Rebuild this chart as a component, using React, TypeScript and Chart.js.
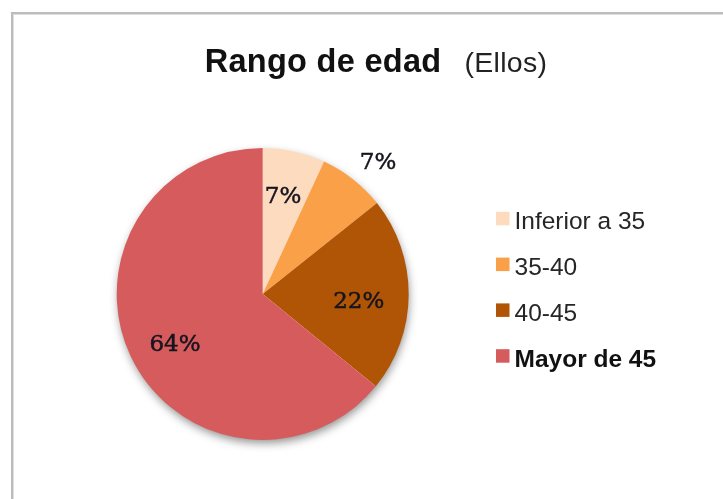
import React, { useEffect, useRef } from "react";
import { Chart, registerables } from "chart.js";

Chart.register(...registerables);

const titleBold = "Rango de edad";
const titleNormal = "(Ellos)";
const categories = ["Inferior a 35", "35-40", "40-45", "Mayor de 45"];
const values = [6.9, 7.4, 21.6, 64.1];
const sliceColors = ["#FDDBBE", "#F9A048", "#B05505", "#D65B5D"];
const boldLegendItems = [false, false, false, true];

// label placement: radius factor and angle tweak (deg) per slice
const labelPlacement = [
  { r: 0.68, dA: -0.6 },
  { r: 1.195, dA: 3.2 },
  { r: 0.66, dA: 4.3 },
  { r: 0.695, dA: -4.8 },
];

const decorPlugin = {
  id: "decor",
  beforeDraw(chart: any) {
    const ctx = chart.ctx;
    ctx.save();
    ctx.fillStyle = "#ffffff";
    ctx.fillRect(0, 0, chart.width, chart.height);
    // frame
    ctx.fillStyle = "#bcbcbc";
    ctx.fillRect(11, 12, chart.width, 2);
    ctx.fillRect(11, 12, 2, chart.height);
    ctx.fillStyle = "#dedede";
    ctx.fillRect(13, 14, chart.width, 1);
    ctx.fillRect(13, 14, 1, chart.height);

    // title
    ctx.textBaseline = "alphabetic";
    const fB = "bold 32.5px 'Liberation Sans', Arial, sans-serif";
    const fN = "28.5px 'Liberation Sans', Arial, sans-serif";
    ctx.font = fB;
    (ctx as any).letterSpacing = "0.3px";
    const wB = ctx.measureText(titleBold).width;
    ctx.font = fN;
    const wN = ctx.measureText(titleNormal).width;
    const gap = 23;
    const total = wB + gap + wN;
    const cx = 376;
    const x0 = cx - total / 2;
    ctx.fillStyle = "#111111";
    ctx.font = fB;
    ctx.fillText(titleBold, x0, 72);
    ctx.font = fN;
    ctx.fillStyle = "#222222";
    ctx.fillText(titleNormal, x0 + wB + gap, 72);
    (ctx as any).letterSpacing = "0px";

    // legend
    const legX = 496;
    const base0 = 229.3;
    const step = 45.8;
    categories.forEach((c, i) => {
      const bl = base0 + i * step;
      ctx.fillStyle = sliceColors[i];
      ctx.fillRect(legX, bl - 17.5, 13.5, 13.5);
      ctx.fillStyle = boldLegendItems[i] ? "#111111" : "#262626";
      ctx.font = (boldLegendItems[i] ? "bold " : "") + "24.5px 'Liberation Sans', Arial, sans-serif";
      ctx.fillText(c, legX + 18.5, bl);
    });
    ctx.restore();
  },
  beforeDatasetsDraw(chart: any) {
    const meta = chart.getDatasetMeta(0);
    const arc = meta.data[0];
    if (!arc) return;
    const { x, y, outerRadius } = arc.getProps(["x", "y", "outerRadius"], true);
    const ctx = chart.ctx;
    ctx.save();
    ctx.shadowColor = "rgba(0,0,0,0.45)";
    ctx.shadowBlur = 10;
    ctx.shadowOffsetX = 1;
    ctx.shadowOffsetY = 4;
    ctx.fillStyle = "#ffffff";
    ctx.beginPath();
    ctx.arc(x, y, outerRadius - 1, 0, Math.PI * 2);
    ctx.fill();
    ctx.restore();
  },
  afterDatasetsDraw(chart: any) {
    const meta = chart.getDatasetMeta(0);
    const data = chart.data.datasets[0].data as number[];
    const total = data.reduce((a, b) => a + b, 0);
    const ctx = chart.ctx;
    ctx.save();
    ctx.font = "23px 'DejaVu Serif', serif";
    ctx.fillStyle = "#15151f";
    ctx.strokeStyle = "#15151f";
    ctx.lineWidth = 0.5;
    ctx.textAlign = "center";
    ctx.textBaseline = "middle";
    meta.data.forEach((el: any, i: number) => {
      const p = el.getProps(["x", "y", "startAngle", "endAngle", "outerRadius"], true);
      const pl = labelPlacement[i];
      const mid = (p.startAngle + p.endAngle) / 2 + (pl.dA * Math.PI) / 180;
      const r = p.outerRadius * pl.r;
      const lx = p.x + Math.cos(mid) * r;
      const ly = p.y + Math.sin(mid) * r;
      const txt = Math.round((data[i] / total) * 100) + "%";
      ctx.fillText(txt, lx, ly);
      ctx.strokeText(txt, lx, ly);
    });
    ctx.restore();
  },
};

export default function App() {
  const ref = useRef<HTMLCanvasElement>(null);
  useEffect(() => {
    if (!ref.current) return;
    const chart = new Chart(ref.current, {
      type: "pie",
      data: {
        labels: categories,
        datasets: [
          {
            data: values,
            backgroundColor: sliceColors,
            borderWidth: 0,
          },
        ],
      },
      options: {
        animation: false,
        responsive: true,
        maintainAspectRatio: false,
        layout: {
          padding: { top: 148, bottom: 59, left: 116.7, right: 314.3 },
        },
        plugins: {
          legend: { display: false },
          title: { display: false },
          tooltip: { enabled: false },
        },
      },
      plugins: [decorPlugin],
    });
    return () => chart.destroy();
  }, []);
  return (
    <div
      style={{
        position: "fixed",
        left: 0,
        top: 0,
        width: 723,
        height: 499,
        background: "#fff",
      }}
    >
      <canvas ref={ref} />
    </div>
  );
}
